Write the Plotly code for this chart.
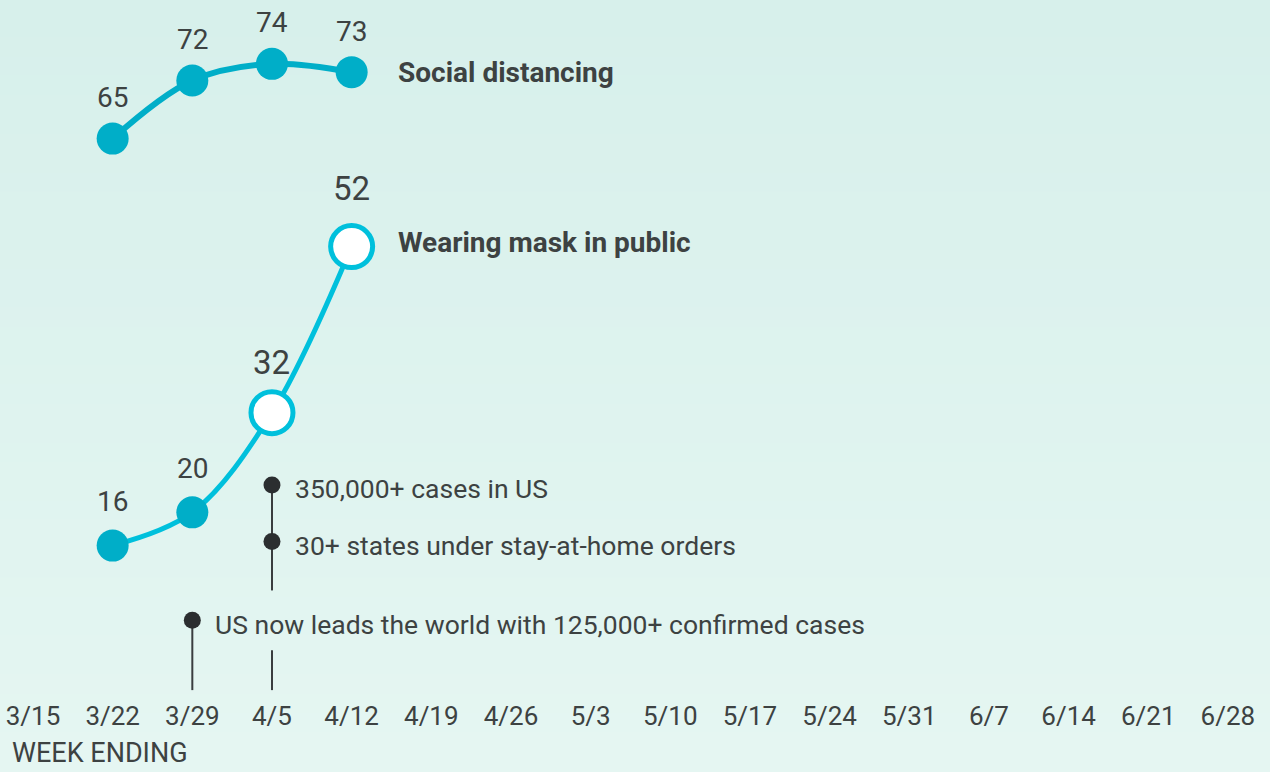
import plotly.graph_objects as go

# ---- data ----
weeks = ["3/15", "3/22", "3/29", "4/5", "4/12", "4/19", "4/26", "5/3", "5/10",
         "5/17", "5/24", "5/31", "6/7", "6/14", "6/21", "6/28"]
social_weeks = ["3/22", "3/29", "4/5", "4/12"]
social_values = [65, 72, 74, 73]
mask_weeks = ["3/22", "3/29", "4/5", "4/12"]
mask_values = [16, 20, 32, 52]

event_weeks = ["3/29", "4/5", "4/5"]
event_texts = ["US now leads the world with 125,000+ confirmed cases",
               "30+ states under stay-at-home orders",
               "350,000+ cases in US"]
event_levels = [7.0, 16.5, 23.3]

# ---- styling ----
FONT = "Roboto, Liberation Sans, sans-serif"
TXT = "#3d4242"
SOCIAL = "#00aec8"
MASK = "#00c0dc"
DOT = "#2b2e30"
STEM = "#3a3d3f"

idx = {w: i for i, w in enumerate(weeks)}
sx = [idx[w] for w in social_weeks]
mx = [idx[w] for w in mask_weeks]
ex = [idx[w] for w in event_weeks]

PLOT_H = 698
B = 772 - PLOT_H

fig = go.Figure()

# background gradient bands
n = 40
top = (215, 240, 235)
bot = (229, 246, 242)
y0p, y1p = -B / PLOT_H, 1.0
shapes = []
for k in range(n):
    t = k / (n - 1)
    c = tuple(round(top[j] + (bot[j] - top[j]) * t) for j in range(3))
    ya = y1p - (y1p - y0p) * k / n
    yb = y1p - (y1p - y0p) * (k + 1) / n
    shapes.append(dict(type="rect", xref="paper", yref="paper", x0=0, x1=1,
                       y0=yb, y1=ya + 0.002, fillcolor="rgb(%d,%d,%d)" % c,
                       line=dict(width=0), layer="below"))

# event stems
stem_bottom = -1.4
fig.add_trace(go.Scatter(x=[ex[0], ex[0]], y=[event_levels[0], stem_bottom],
                         mode="lines", line=dict(color=STEM, width=2),
                         hoverinfo="skip", showlegend=False))
# 4/5 stem, interrupted where the 3/29 label passes
fig.add_trace(go.Scatter(x=[ex[2], ex[2], None, ex[2], ex[2]],
                         y=[event_levels[2], 10.6, None, 3.4, stem_bottom],
                         mode="lines", line=dict(color=STEM, width=2),
                         hoverinfo="skip", showlegend=False))
fig.add_trace(go.Scatter(x=ex, y=event_levels, mode="markers",
                         marker=dict(color=DOT, size=17),
                         hoverinfo="skip", showlegend=False))

# series
fig.add_trace(go.Scatter(x=sx, y=social_values, mode="lines+markers",
                         line=dict(color=SOCIAL, width=6, shape="spline", smoothing=1),
                         marker=dict(color=SOCIAL, size=32),
                         name="Social distancing", showlegend=False))
fig.add_trace(go.Scatter(x=mx, y=mask_values, mode="lines",
                         line=dict(color=MASK, width=5, shape="spline", smoothing=1),
                         hoverinfo="skip", showlegend=False))
mask_open = [2, 3]
mask_filled = [0, 1]
fig.add_trace(go.Scatter(x=[mx[i] for i in mask_filled], y=[mask_values[i] for i in mask_filled],
                         mode="markers", marker=dict(color=SOCIAL, size=32),
                         showlegend=False))
fig.add_trace(go.Scatter(x=[mx[i] for i in mask_open], y=[mask_values[i] for i in mask_open],
                         mode="markers",
                         marker=dict(color="white", size=42, line=dict(color=MASK, width=5)),
                         showlegend=False))

ann = []
for x, v in zip(sx, social_values):
    ann.append(dict(x=x, y=v, text=str(v), showarrow=False, yshift=41,
                    font=dict(size=28, color=TXT, family=FONT)))
for i, (x, v) in enumerate(zip(mx, mask_values)):
    big = i in mask_open
    ann.append(dict(x=x, y=v, text=str(v), showarrow=False,
                    yshift=(58 if i == 3 else 50) if big else 44,
                    font=dict(size=33 if big else 28, color=TXT, family=FONT)))
ann.append(dict(x=sx[-1], y=social_values[-1], text="<b>Social distancing</b>", showarrow=False,
                xanchor="left", xshift=44, font=dict(size=28, color=TXT, family=FONT)))
ann.append(dict(x=mx[-1], y=mask_values[-1], text="<b>Wearing mask in public</b>", showarrow=False,
                xanchor="left", xshift=44, yshift=4, font=dict(size=28, color=TXT, family=FONT)))
for x, v, t in zip(ex, event_levels, event_texts):
    ann.append(dict(x=x, y=v, text=t, showarrow=False, xanchor="left", xshift=21, yshift=-4,
                    font=dict(size=26.5, color=TXT, family=FONT)))
ann.append(dict(xref="paper", yref="paper", x=10 / 1270, y=(PLOT_H - 753) / PLOT_H,
                xanchor="left", yanchor="middle", text="WEEK ENDING", showarrow=False,
                font=dict(size=27, color=TXT, family=FONT)))

fig.update_layout(
    width=1270, height=772,
    margin=dict(l=0, r=0, t=0, b=B),
    paper_bgcolor="#e4f4f0", plot_bgcolor="rgba(0,0,0,0)",
    shapes=shapes, annotations=ann, showlegend=False,
    xaxis=dict(range=[-33 / 79.66, (1270 - 33) / 79.66], tickvals=list(range(len(weeks))),
               ticktext=weeks, showgrid=False, zeroline=False, showline=False,
               ticks="", tickfont=dict(size=26, color=TXT, family=FONT), fixedrange=True),
    yaxis=dict(range=[-2.35, 81.69], visible=False, fixedrange=True),
)

fig.write_html("out.html", config={"displayModeBar": False},
               post_script="document.body.style.margin='0';document.body.style.overflow='hidden';")
